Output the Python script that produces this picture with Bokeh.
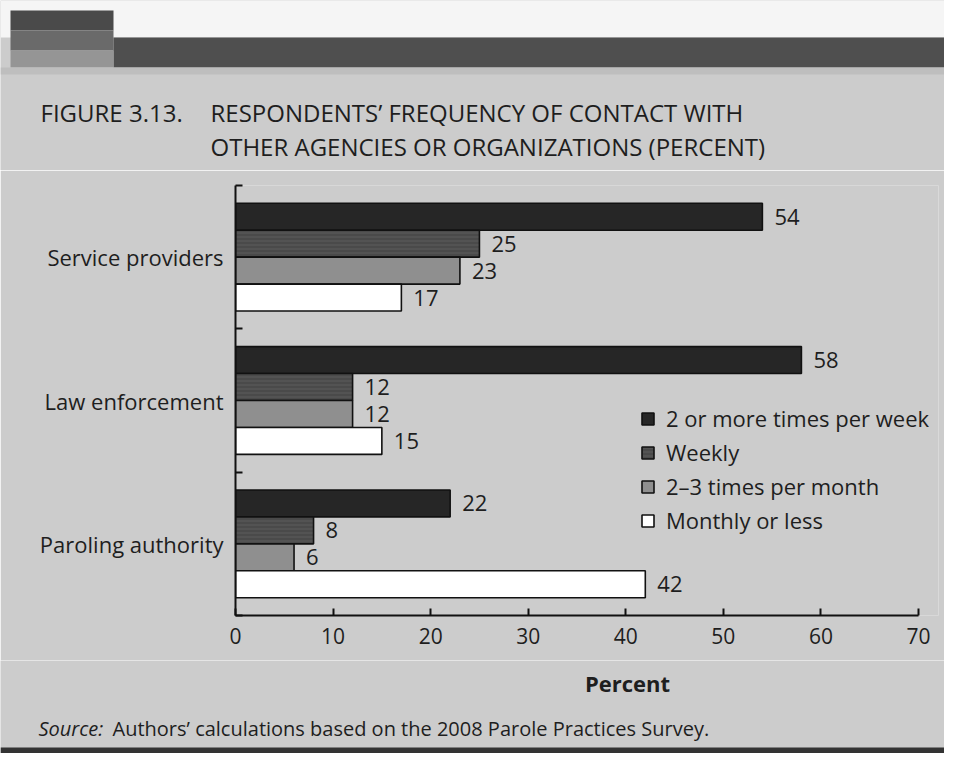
from bokeh.plotting import figure
from bokeh.models import Range1d, FixedTicker, Legend, LegendItem, ColumnDataSource
from bokeh.core.properties import value
from bokeh.embed import file_html
from bokeh.resources import INLINE

# ---------------- data ----------------
categories = ["Service providers", "Law enforcement", "Paroling authority"]
series_names = ["2 or more times per week", "Weekly", "2\u20133 times per month", "Monthly or less"]
twice_or_more_weekly = [54, 58, 22]
weekly = [25, 12, 8]
two_three_per_month = [23, 12, 6]
monthly_or_less = [17, 15, 42]
x_ticks = [0, 10, 20, 30, 40, 50, 60, 70]

title_fig = "FIGURE 3.13."
title_line1 = "RESPONDENTS\u2019 FREQUENCY OF CONTACT WITH"
title_line2 = "OTHER AGENCIES OR ORGANIZATIONS (PERCENT)"
source_lead = "Source:"
source_rest = "Authors\u2019 calculations based on the 2008 Parole Practices Survey."
x_label = "Percent"

# ---------------- styling ----------------
FONT = "Open Sans"
BG = "#cccccc"
INK = "#1e1e1e"
colors = ["#262626", "#4a4a4a", "#8f8f8f", "#ffffff"]

W = 944
TOP_H = 170          # page y 0..170
MAIN_H = 490         # page y 170..660
BOT_H = 93           # page y 660..753
# axis position in page pixels (0 -> PL, 70 -> P70)
PL, P70, PT, PB = 235, 918, 185, 615
AXIS_MAX = 70
px_per_unit = (P70 - PL) / AXIS_MAX
FRAME_W = 703
X_END = FRAME_W / px_per_unit


def deco_fig(h, y0):
    """A figure whose frame is the whole panel, in page pixel units."""
    f = figure(width=W, height=h, x_range=Range1d(0, W), y_range=Range1d(y0 + h, y0),
               output_backend="svg", toolbar_location=None,
               x_axis_type=None, y_axis_type=None, min_border=0)
    f.background_fill_color = BG
    f.border_fill_color = BG
    f.outline_line_color = None
    f.xgrid.visible = False
    f.ygrid.visible = False
    return f


def txt(f, s, x, y, size, align="left", style="normal"):
    f.text(x=[x], y=[y], text=[s], text_font=value(FONT), text_font_size=size,
           text_align=align, text_baseline="middle", text_font_style=style,
           text_color=INK)


# ---------------- top panel: band + title ----------------
top = deco_fig(TOP_H, 0)
top.quad(left=[0], right=[W], top=[0], bottom=[37], fill_color="#f5f5f5", line_color=None)
top.quad(left=[113], right=[W], top=[37], bottom=[67], fill_color="#4f4f4f", line_color=None)
top.quad(left=[10, 10, 10], right=[113, 113, 113], top=[10, 30, 50], bottom=[30, 50, 67],
         fill_color=["#4a4a4a", "#6a6a6a", "#959595"], line_color=None)
top.quad(left=[0], right=[W], top=[67], bottom=[74], fill_color="#bebebe", line_color=None)
txt(top, title_fig, 40, 112, "24px")
txt(top, title_line1, 210, 112, "24px")
txt(top, title_line2, 210, 146, "24px")

# ---------------- main chart ----------------
YMAX = 3
p = figure(width=W, height=MAIN_H, x_range=Range1d(0, X_END), y_range=Range1d(0, YMAX),
           output_backend="svg", toolbar_location=None,
           min_border_left=PL, min_border_right=W - PL - FRAME_W,
           min_border_top=PT - TOP_H, min_border_bottom=TOP_H + MAIN_H - PB)
p.background_fill_color = BG
p.border_fill_color = BG
p.outline_line_color = None
p.xgrid.visible = False
p.ygrid.visible = False

bar_h = 0.188
group_centers = [YMAX - i - 0.5 for i in range(len(categories))]
all_series = [twice_or_more_weekly, weekly, two_three_per_month, monthly_or_less]
legend_items = []
for k, (name, vals, col) in enumerate(zip(series_names, all_series, colors)):
    off = (1.5 - k) * bar_h
    src = ColumnDataSource(dict(y=[c + off for c in group_centers], right=vals,
                                lbl=[str(v) for v in vals]))
    kw = {}
    if k == 1:
        kw = dict(hatch_pattern="-", hatch_color="#5c5c5c", hatch_scale=4, hatch_weight=1)
    r = p.hbar(y="y", left=0, right="right", height=bar_h, source=src,
               fill_color=col, line_color="#111111", line_width=1.6, **kw)
    legend_items.append(LegendItem(label=name, renderers=[r]))
    p.text(x="right", y="y", text="lbl", source=src, x_offset=12,
           text_baseline="middle", text_align="left",
           text_font=value(FONT), text_font_size="22px", text_color=INK)

xa = p.xaxis[0]
xa.ticker = FixedTicker(ticks=x_ticks)
xa.bounds = (0, AXIS_MAX)
xa.major_tick_in = 7
xa.major_tick_out = 0
xa.minor_tick_line_color = None
xa.axis_line_width = 2
xa.axis_line_color = "#111111"
xa.major_tick_line_width = 2
xa.major_tick_line_color = "#111111"
xa.major_label_standoff = 12
xa.major_label_text_font = FONT
xa.major_label_text_font_size = "21px"
xa.major_label_text_color = INK

ya = p.yaxis[0]
ya.ticker = FixedTicker(ticks=group_centers, minor_ticks=[0, 1, 2, 3])
ya.major_label_overrides = {c: name for c, name in zip(group_centers, categories)}
ya.major_tick_line_color = None
ya.major_tick_in = 0
ya.major_tick_out = 0
ya.minor_tick_in = 7
ya.minor_tick_out = 0
ya.minor_tick_line_width = 2
ya.minor_tick_line_color = "#111111"
ya.axis_line_width = 2
ya.axis_line_color = "#111111"
ya.major_label_standoff = 12
ya.major_label_text_font = FONT
ya.major_label_text_font_size = "22px"
ya.major_label_text_color = INK

legend = Legend(items=legend_items, location=(405, 80),
                glyph_width=15, glyph_height=15, label_standoff=11,
                spacing=4, padding=0, margin=0,
                background_fill_alpha=0, border_line_alpha=0,
                label_text_font=FONT, label_text_font_size="22px",
                label_text_color=INK)
p.add_layout(legend)

# ---------------- bottom panel: axis title + source ----------------
bot = deco_fig(BOT_H, TOP_H + MAIN_H)
txt(bot, x_label, 627, 682, "22px", align="center", style="bold")
txt(bot, source_lead, 38, 728, "20px", style="italic")
txt(bot, source_rest, 112, 728, "20px")
bot.quad(left=[0], right=[W], top=[747], bottom=[753], fill_color="#333333", line_color=None)

open("out.html", "w").write(file_html([top, p, bot], INLINE))
